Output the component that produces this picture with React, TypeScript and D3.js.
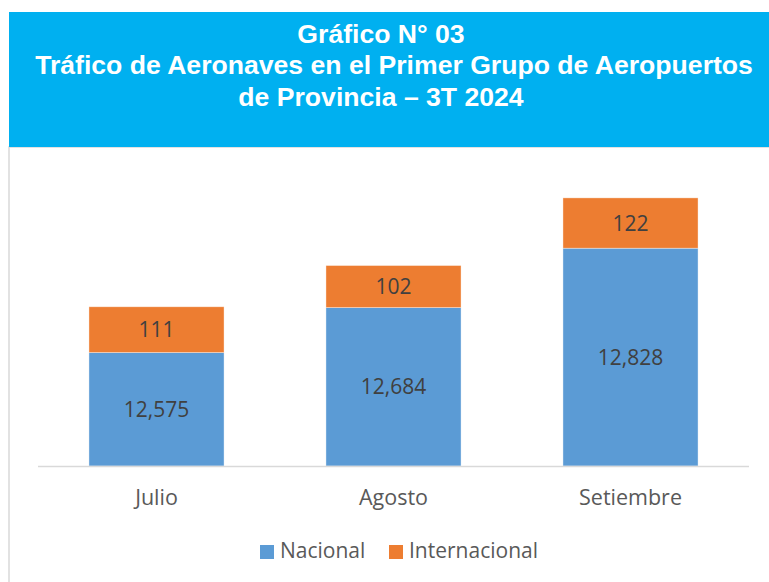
import React from "react";
import * as d3 from "d3";

const months = ["Julio", "Agosto", "Setiembre"];
const nacional = [12575, 12684, 12828];
const internacional = [111, 102, 122];
const seriesNames = ["Nacional", "Internacional"];
const seriesColors = ["#5B9BD5", "#ED7D31"];
const yDomain = [12300, 13000];
const titleLines = [
  "Gráfico N° 03",
  "Tráfico de Aeronaves en el Primer Grupo de Aeropuertos",
  "de Provincia – 3T 2024",
];

const W = 769;
const H = 582;

export default function App() {
  const x = d3
    .scaleBand<string>()
    .domain(months)
    .range([38, 749])
    .paddingInner(0.43)
    .paddingOuter(0.215);
  const y = d3.scaleLinear().domain(yDomain).range([466, 177.25]).clamp(true);

  const table = months.map((m, i) => ({
    month: m,
    Nacional: nacional[i],
    Internacional: internacional[i],
  }));
  const stacked = d3.stack<any>().keys(seriesNames)(table);
  const fmt = d3.format(",");
  const labelFont = "'Open Sans', 'Noto Sans', sans-serif";

  const legendItems = [
    { name: seriesNames[0], color: seriesColors[0], x: 260 },
    { name: seriesNames[1], color: seriesColors[1], x: 389 },
  ];
  const titleX = [381, 394, 381];
  const titleY = [42.5, 74, 105.5];

  return (
    <svg
      width={W}
      height={H}
      style={{ position: "absolute", left: 0, top: 0, background: "#fff" }}
    >
      <rect x={9} y={147} width={800} height={500} fill="#fff" stroke="#d9d9d9" strokeWidth={1.5} />
      <rect x={9} y={12} width={770} height={135} fill="#00B0F0" />
      {titleLines.map((t, i) => (
        <text
          key={i}
          x={titleX[i]}
          y={titleY[i]}
          textAnchor="middle"
          fill="#fff"
          fontFamily="'Liberation Sans', Arial, sans-serif"
          fontWeight="bold"
          fontSize={26.6}
        >
          {t}
        </text>
      ))}

      {stacked.map((s, si) => (
        <g key={s.key}>
          {s.map((d, i) => {
            const top = y(d[1]);
            const bot = y(d[0]);
            const bx = x(months[i])!;
            return (
              <g key={i}>
                <rect
                  x={bx}
                  y={top}
                  width={x.bandwidth()}
                  height={bot - top}
                  fill={seriesColors[si]}
                  stroke="#ffffff"
                  strokeOpacity={0.5}
                  strokeWidth={0.75}
                />
                <text
                  x={bx + x.bandwidth() / 2}
                  y={(top + bot) / 2}
                  dy="0.36em"
                  textAnchor="middle"
                  fill="#404040"
                  fontFamily={labelFont}
                  fontSize={21}
                >
                  {fmt(d[1] - d[0])}
                </text>
              </g>
            );
          })}
        </g>
      ))}

      <line x1={38} x2={749} y1={466.5} y2={466.5} stroke="#d9d9d9" strokeWidth={1.5} />

      {months.map((m) => (
        <text
          key={m}
          x={x(m)! + x.bandwidth() / 2}
          y={505}
          textAnchor="middle"
          fill="#595959"
          fontFamily={labelFont}
          fontSize={21.5}
        >
          {m}
        </text>
      ))}

      {legendItems.map((l) => (
        <g key={l.name}>
          <rect x={l.x} y={545} width={14} height={14} fill={l.color} />
          <text
            x={l.x + 20}
            y={558}
            fill="#595959"
            fontFamily={labelFont}
            fontSize={21}
          >
            {l.name}
          </text>
        </g>
      ))}
    </svg>
  );
}
